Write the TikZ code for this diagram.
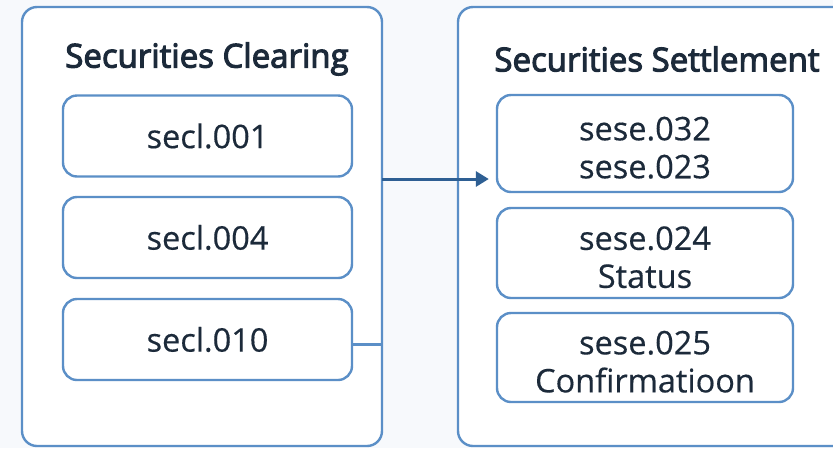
\documentclass[tikz,border=0pt]{standalone}
\usepackage{fontspec}
\setmainfont{Open Sans}
\newfontfamily\bodyfont[FakeBold=0.4]{Open Sans}
\newfontfamily\titlefont[FakeBold=3.2]{Open Sans}
\usetikzlibrary{arrows.meta,calc}
\definecolor{bgc}{HTML}{F7F9FC}
\definecolor{edgec}{HTML}{5B8FC7}
\definecolor{txtc}{HTML}{1C2A3A}
\definecolor{arrc}{HTML}{2E5F93}
\newcommand{\mytopstrut}{\rule{0pt}{32pt}}
\tikzset{
  container/.style={draw=edgec, line width=2.4pt, rounded corners=15pt, fill=white, inner sep=0pt},
  msgbox/.style={draw=edgec, line width=2.4pt, rounded corners=14pt, fill=white, inner sep=0pt,
    align=center, text=txtc, font=\bodyfont\fontsize{32.5}{38}\selectfont},
  title/.style={text=txtc, font=\titlefont\fontsize{33}{36}\selectfont, inner sep=0pt},
  link/.style={draw=edgec, line width=2.2pt},
  flow/.style={draw=arrc, line width=3pt, -{Triangle[length=13pt,width=15pt]}}
}
\begin{document}
\begin{tikzpicture}[x=1pt,y=-1pt]
\useasboundingbox[fill=bgc] (0,0) rectangle (833,448);
\node[container, minimum width=360pt, minimum height=439pt] (lc) at (202,226.5) {};
\node[container, minimum width=402pt, minimum height=439pt] (rc) at (659,226.5) {};
\node[title] (lt) at (207,59) {Securities Clearing};
\node[title] (rt) at (657,59) {Securities Settlement};
\node[msgbox, minimum width=289pt, minimum height=81pt] (s1) at (207.5,136) {secl.001};
\node[msgbox, minimum width=289pt, minimum height=81pt] (s2) at (207.5,237.5) {secl.004};
\node[msgbox, minimum width=289pt, minimum height=81pt] (s3) at (207.5,339.5) {secl.010};
\node[msgbox, minimum width=296pt, minimum height=97pt] (e1) at (645,143.5) {\mytopstrut sese.032\\sese.023};
\node[msgbox, minimum width=296pt, minimum height=90pt] (e2) at (645,253) {\mytopstrut sese.024\\Status};
\node[msgbox, minimum width=296pt, minimum height=89pt] (e3) at (645,357.5) {\mytopstrut sese.025\\Confirmatioon};
\coordinate (as) at (382,179);
\draw[link] ($(s3.east)+(0,5)$) -- ($(s3.east -| lc.east)+(0,5)$);
\draw[flow] (as) -- ($(e1.west |- as)+(-7,0)$);
\end{tikzpicture}
\end{document}
